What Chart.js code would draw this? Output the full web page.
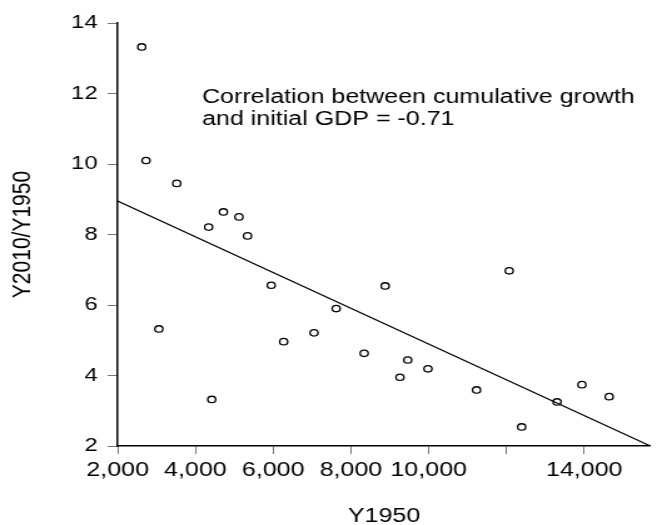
<!DOCTYPE html>
<html>
<head>
<meta charset="utf-8">
<script src="https://cdn.jsdelivr.net/npm/chart.js@4"></script>
<style>
    body { margin: 0; background: #fff; }
</style>
</head>
<body>
<canvas id="chartCanvas" width="525" height="525" style="display:block;width:657px;height:525px"></canvas>
<script>
// Y1950 (GDP per capita) and Y2010/Y1950 (cumulative growth)
const y1950 = [2620, 2730, 3520, 4340, 4720, 5120, 5340, 3060, 4420, 5950, 8880, 7620,
    7050, 6270, 8340, 9460, 9980, 9260, 11230, 12070, 12390, 13300, 13940, 14640];
const growth = [13.32, 10.10, 9.45, 8.21, 8.64, 8.50, 7.96, 5.32, 3.32, 6.56, 6.54, 5.90,
    5.21, 4.96, 4.63, 4.44, 4.19, 3.95, 3.59, 6.97, 2.54, 3.25, 3.74, 3.40];

// fitted line end points
const fitX = [2000, 15700];
const fitY = [8.95, 2.0];

const xTicks = [2000, 4000, 6000, 8000, 10000, 12000, 14000];
const xTickLabels = ['2,000', '4,000', '6,000', '8,000', '10,000', '', '14,000'];
const yTicks = [2, 4, 6, 8, 10, 12, 14];

const noteLines = ['Correlation between cumulative growth', 'and initial GDP = -0.71'];
const noteX = 4170;
const noteY = 11.73;

const font = '"Liberation Sans", Arial, sans-serif';

const notePlugin = {
    id: 'note',
    afterDraw(chart) {
        const c = chart.ctx;
        const x = chart.scales.x.getPixelForValue(noteX);
        const y = chart.scales.y.getPixelForValue(noteY);
        c.save();
        c.font = '20px ' + font;
        c.fillStyle = '#000';
        c.textAlign = 'left';
        c.textBaseline = 'alphabetic';
        noteLines.forEach((line, i) => c.fillText(line, x, y + i * 22));
        c.restore();
    }
};

const ctx = document.getElementById('chartCanvas').getContext('2d');
const chart = new Chart(ctx, {
    type: 'scatter',
    data: {
        datasets: [{
            data: y1950.map((v, i) => ({ x: v, y: growth[i] })),
            pointStyle: 'circle',
            pointRadius: 3.2,
            pointBorderWidth: 1.3,
            pointBorderColor: '#000',
            pointBackgroundColor: 'rgba(0,0,0,0)'
        }, {
            type: 'line',
            data: fitX.map((v, i) => ({ x: v, y: fitY[i] })),
            borderColor: '#000',
            borderWidth: 1.2,
            pointRadius: 0,
            fill: false
        }]
    },
    options: {
        responsive: false,
        devicePixelRatio: 1,
        animation: false,
        layout: { padding: { top: 23, right: 0, bottom: 0, left: 0 } },
        plugins: {
            legend: { display: false },
            tooltip: { enabled: false }
        },
        scales: {
            x: {
                type: 'linear',
                min: 2000,
                max: 15700,
                afterBuildTicks: (scale) => { scale.ticks = xTicks.map(v => ({ value: v })); },
                afterFit: (scale) => { scale.height = 79; },
                border: { color: '#000', width: 1.5 },
                grid: { drawOnChartArea: false, drawTicks: true, tickLength: 8, color: '#777' },
                ticks: {
                    autoSkip: false,
                    maxRotation: 0,
                    padding: 4,
                    color: '#000',
                    font: { family: font, size: 20 },
                    callback: (value, index) => xTickLabels[index]
                },
                title: {
                    display: true,
                    text: 'Y1950',
                    color: '#000',
                    font: { family: font, size: 20 },
                    padding: { top: 0, bottom: -3 }
                }
            },
            y: {
                min: 2,
                max: 14,
                afterBuildTicks: (scale) => { scale.ticks = yTicks.map(v => ({ value: v })); },
                afterFit: (scale) => { scale.width = 94; },
                border: { color: '#000', width: 1.5 },
                grid: { drawOnChartArea: false, drawTicks: true, tickLength: 8, color: '#777' },
                ticks: {
                    padding: 8,
                    color: '#000',
                    font: { family: font, size: 19 }
                },
                title: {
                    display: true,
                    text: 'Y2010/Y1950',
                    color: '#000',
                    font: { family: font, size: 21 },
                    padding: { top: 6, bottom: 0 }
                }
            }
        }
    },
    plugins: [notePlugin]
});
</script>
</body>
</html>
